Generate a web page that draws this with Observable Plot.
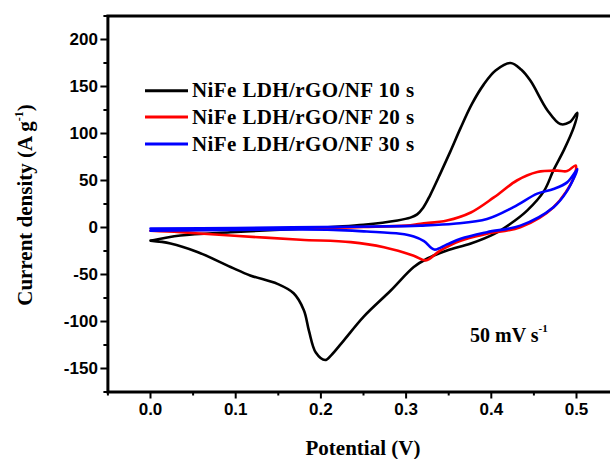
<!DOCTYPE html>
<html>
<head>
<meta charset="utf-8">
<script src="https://cdn.jsdelivr.net/npm/d3@7"></script>
<script src="https://cdn.jsdelivr.net/npm/@observablehq/plot@0.6"></script>
<style>
  html, body { margin: 0; padding: 0; background: white; overflow: hidden; width: 610px; height: 459px; }
  #chart svg { display: block; }
</style>
</head>
<body>
<div id="chart"></div>
<script>
// ---------- data ----------
const seriesNames = ["NiFe LDH/rGO/NF 10 s", "NiFe LDH/rGO/NF 20 s", "NiFe LDH/rGO/NF 30 s"];
const seriesColors = ["#000000", "#ff0000", "#0000ff"];

// 10 s (anodic sweep then cathodic sweep)
const v10 = [0, 0.035, 0.094, 0.172, 0.25, 0.29, 0.305, 0.313, 0.320, 0.328, 0.340, 0.352, 0.364, 0.377, 0.391, 0.405, 0.4225, 0.435, 0.446, 0.466, 0.481, 0.492, 0.501,
             0.497, 0.485, 0.473, 0.462, 0.442, 0.4225, 0.403, 0.376, 0.348, 0.325, 0.309, 0.282, 0.25, 0.227, 0.212, 0.205, 0.194, 0.186, 0.180, 0.168, 0.149, 0.117, 0.094, 0.055, 0.0235, 0];
const j10 = [-14, -8.5, -5, -1.5, 3, 7.5, 10.5, 14, 21, 34, 57, 81, 106, 131, 152, 167, 175, 168, 156, 124.5, 110, 112, 122,
             107, 82, 61, 39, 18, 4, -7, -17, -24.5, -33, -42, -67, -95, -120, -136, -141, -133, -110, -88, -70, -60, -51, -42, -26, -17, -14];

// 20 s
const v20 = [0, 0.1, 0.2, 0.25, 0.3, 0.317, 0.348, 0.376, 0.403, 0.430, 0.454, 0.477, 0.489, 0.499,
             0.497, 0.473, 0.434, 0.395, 0.364, 0.340, 0.323, 0.309, 0.274, 0.235, 0.176, 0.094, 0.035, 0];
const j20 = [-3.5, -2, -0.5, 0.5, 2, 4, 7.5, 16, 32, 50, 59, 60.5, 60, 66,
             53.5, 21.6, 0.3, -6.7, -14, -24.5, -35, -30, -21, -15.6, -13, -8.5, -5, -3.5];

// 30 s
const v30 = [0, 0.1, 0.2, 0.3, 0.317, 0.356, 0.395, 0.426, 0.454, 0.473, 0.489, 0.501,
             0.489, 0.473, 0.434, 0.395, 0.364, 0.348, 0.333, 0.321, 0.309, 0.293, 0.254, 0.215, 0.1, 0];
const j30 = [-1, -0.5, 0.5, 1.5, 2, 4, 9, 21.6, 36, 41, 48, 62,
             39, 21.6, 2, -5, -12, -18, -23.5, -14.5, -9.6, -6.7, -4.3, -2.5, -2.5, -3.5];

const xTicks = [0, 0.1, 0.2, 0.3, 0.4, 0.5];
const xTickLabels = ["0.0", "0.1", "0.2", "0.3", "0.4", "0.5"];
const xMinorTicks = [-0.05, 0.05, 0.15, 0.25, 0.35, 0.45];
const yTicks = [-150, -100, -50, 0, 50, 100, 150, 200];
const yTickLabels = ["-150", "-100", "-50", "0", "50", "100", "150", "200"];
const yMinorTicks = [-175, -125, -75, -25, 25, 75, 125, 175, 225];

const xLabel = "Potential (V)";
const yLabel = "Current density (A g";
const ySup = "-1";
const annotationText = "50 mV s";
const annotationSup = "-1";

// ---------- build ----------
const series = [[v10, j10], [v20, j20], [v30, j30]].map(([v, j], k) =>
  v.map((x, i) => ({x, y: j[i], s: seriesNames[k], order: i})));

const tickFont = {fontSize: 17, fontWeight: "bold", fontFamily: "'Liberation Sans', Arial, sans-serif"};

const lineMarks = series.map((d, k) =>
  Plot.line(d, {x: "x", y: "y", stroke: seriesColors[k], strokeWidth: 2.6, curve: "catmull-rom"}));

const plot = Plot.plot({
  width: 620,
  height: 459,
  marginLeft: 107.4,
  marginRight: 1.4,
  marginTop: 15.5,
  marginBottom: 67.5,
  style: {maxWidth: "none", background: "white", overflow: "visible"},
  x: {domain: [-0.05, 0.55]},
  y: {domain: [-175, 225]},
  marks: [
    ...lineMarks,
    Plot.axisX(xTicks, {tickSize: 7, tickPadding: 4, strokeWidth: 2, label: null,
      tickFormat: d => xTickLabels[xTicks.indexOf(d)], ...tickFont, fill: "#000", letterSpacing: "1.5px"}),
    Plot.axisX(xMinorTicks, {tickSize: 4, strokeWidth: 2, label: null, tickFormat: () => ""}),
    Plot.axisY(yTicks, {tickSize: 7, tickPadding: 3, strokeWidth: 2, label: null,
      tickFormat: d => yTickLabels[yTicks.indexOf(d)], ...tickFont, fill: "#000", letterSpacing: "1.5px"}),
    Plot.axisY(yMinorTicks, {tickSize: 4, strokeWidth: 2, label: null, tickFormat: () => ""}),
    Plot.frame({stroke: "#000", strokeWidth: 3})
  ]
});

document.getElementById("chart").appendChild(plot);

// ---------- titles, legend, annotation ----------
const svg = d3.select(plot);
const serif = "'Liberation Serif', 'Times New Roman', serif";

// x title
svg.append("text")
  .attr("x", 363).attr("y", 455)
  .attr("text-anchor", "middle")
  .attr("font-family", serif).attr("font-weight", "bold").attr("font-size", 21)
  .attr("fill", "#000")
  .text(xLabel);

// y title (rotated)
const yt = svg.append("text")
  .attr("transform", "translate(31.5,205) rotate(-90)")
  .attr("text-anchor", "middle")
  .attr("font-family", serif).attr("font-weight", "bold").attr("font-size", 21)
  .attr("fill", "#000");
yt.append("tspan").text(yLabel);
yt.append("tspan").attr("font-size", 12).attr("dy", -9).text(ySup);
yt.append("tspan").attr("dy", 9).text(")");

// legend
const legendRows = [90.7, 117, 144];
const lg = svg.append("g");
seriesNames.forEach((name, i) => {
  lg.append("line")
    .attr("x1", 145).attr("x2", 188)
    .attr("y1", legendRows[i]).attr("y2", legendRows[i])
    .attr("stroke", seriesColors[i]).attr("stroke-width", 3);
  lg.append("text")
    .attr("x", 192).attr("y", legendRows[i] + 6.5)
    .attr("text-anchor", "start")
    .attr("font-family", serif).attr("font-weight", "bold").attr("font-size", 21)
    .attr("letter-spacing", "0.4px")
    .attr("fill", "#000")
    .text(name);
});

// annotation
const an = svg.append("text")
  .attr("x", 470).attr("y", 341.7)
  .attr("text-anchor", "start")
  .attr("font-family", serif).attr("font-weight", "bold").attr("font-size", 20)
  .attr("fill", "#000");
an.append("tspan").text(annotationText);
an.append("tspan").attr("font-size", 11).attr("dy", -10).text(annotationSup);
</script>
</body>
</html>
